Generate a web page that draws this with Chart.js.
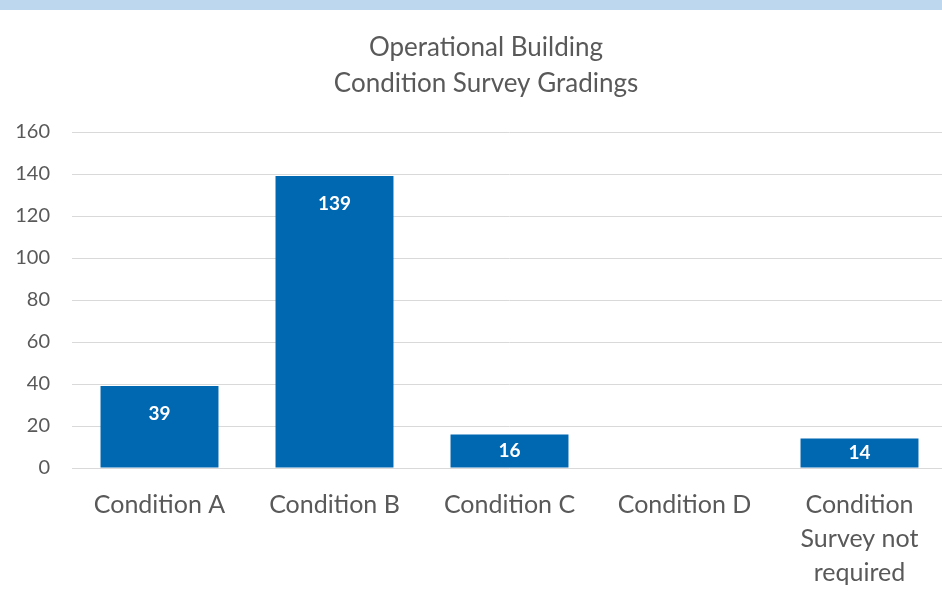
<!DOCTYPE html>
<html>
<head>
<meta charset="utf-8">
<script src="https://cdn.jsdelivr.net/npm/chart.js@4.4.1/dist/chart.umd.min.js"></script>
<style>
	html, body { margin: 0; padding: 0; background: #fff; overflow: hidden; }
	#wrap { position: relative; width: 942px; height: 605px; overflow: hidden; }
	#band { position: absolute; left: 0; top: 0; width: 942px; height: 10px; background: #BDD7EE; }
	#gradeChart { position: absolute; left: 0; top: 0; }
</style>
</head>
<body>
<div id="wrap">
	<canvas id="gradeChart" width="947" height="605"></canvas>
	<div id="band"></div>
</div>
<script>
const titleLines = ['Operational Building', 'Condition Survey Gradings'];
const categories = ['Condition A', 'Condition B', 'Condition C', 'Condition D', ['Condition', 'Survey not', 'required']];
const buildings = [39, 139, 16, 0, 14];
const yTicks = [0, 20, 40, 60, 80, 100, 120, 140, 160];

const fontName = 'Lato, "Open Sans", sans-serif';
const textGrey = '#595959';

// title drawn over the plot area, two centred lines
const titlePlugin = {
	id: 'twoLineTitle',
	afterDraw(chart) {
		const ctx = chart.ctx;
		ctx.save();
		ctx.fillStyle = textGrey;
		ctx.font = '26px ' + fontName;
		ctx.textAlign = 'center';
		ctx.textBaseline = 'middle';
		titleLines.forEach((line, i) => ctx.fillText(line, 486, 48 + i * 36));
		ctx.restore();
	}
};

// white value labels near the top of each bar (centred if the bar is short)
const valueLabels = {
	id: 'valueLabels',
	afterDatasetsDraw(chart) {
		const ctx = chart.ctx;
		const meta = chart.getDatasetMeta(0);
		ctx.save();
		ctx.fillStyle = '#fff';
		ctx.font = 'bold 19px ' + fontName;
		ctx.textAlign = 'center';
		ctx.textBaseline = 'middle';
		meta.data.forEach((bar, i) => {
			const v = buildings[i];
			if (!v) return;
			const y = Math.min(bar.y + 28, (bar.y + bar.base) / 2);
			ctx.fillText(String(v), bar.x, y);
		});
		ctx.restore();
	}
};

new Chart(document.getElementById('gradeChart'), {
	type: 'bar',
	data: {
		labels: categories,
		datasets: [{
			label: 'Buildings',
			data: buildings,
			backgroundColor: '#0067B1',
			barPercentage: 0.674,
			categoryPercentage: 1
		}]
	},
	options: {
		responsive: false,
		animation: false,
		layout: { padding: { top: 132, left: 0, right: 0, bottom: 0 } },
		plugins: {
			legend: { display: false },
			title: { display: false },
			tooltip: { enabled: false }
		},
		scales: {
			x: {
				grid: { display: false, drawTicks: false },
				border: { display: false },
				ticks: {
					color: textGrey,
					font: { family: fontName, size: 25, lineHeight: 1.36 },
					padding: 20,
					maxRotation: 0,
					autoSkip: false
				},
				afterFit(scale) { scale.height = 137; }
			},
			y: {
				min: 0,
				max: 160,
				afterBuildTicks(scale) { scale.ticks = yTicks.map(v => ({ value: v })); },
				grid: { color: '#D9D9D9', lineWidth: 1, drawTicks: false },
				border: { display: false },
				ticks: {
					color: textGrey,
					font: { family: fontName, size: 20 },
					padding: 22
				},
				afterFit(scale) { scale.width = 72; }
			}
		}
	},
	plugins: [titlePlugin, valueLabels]
});
</script>
</body>
</html>
